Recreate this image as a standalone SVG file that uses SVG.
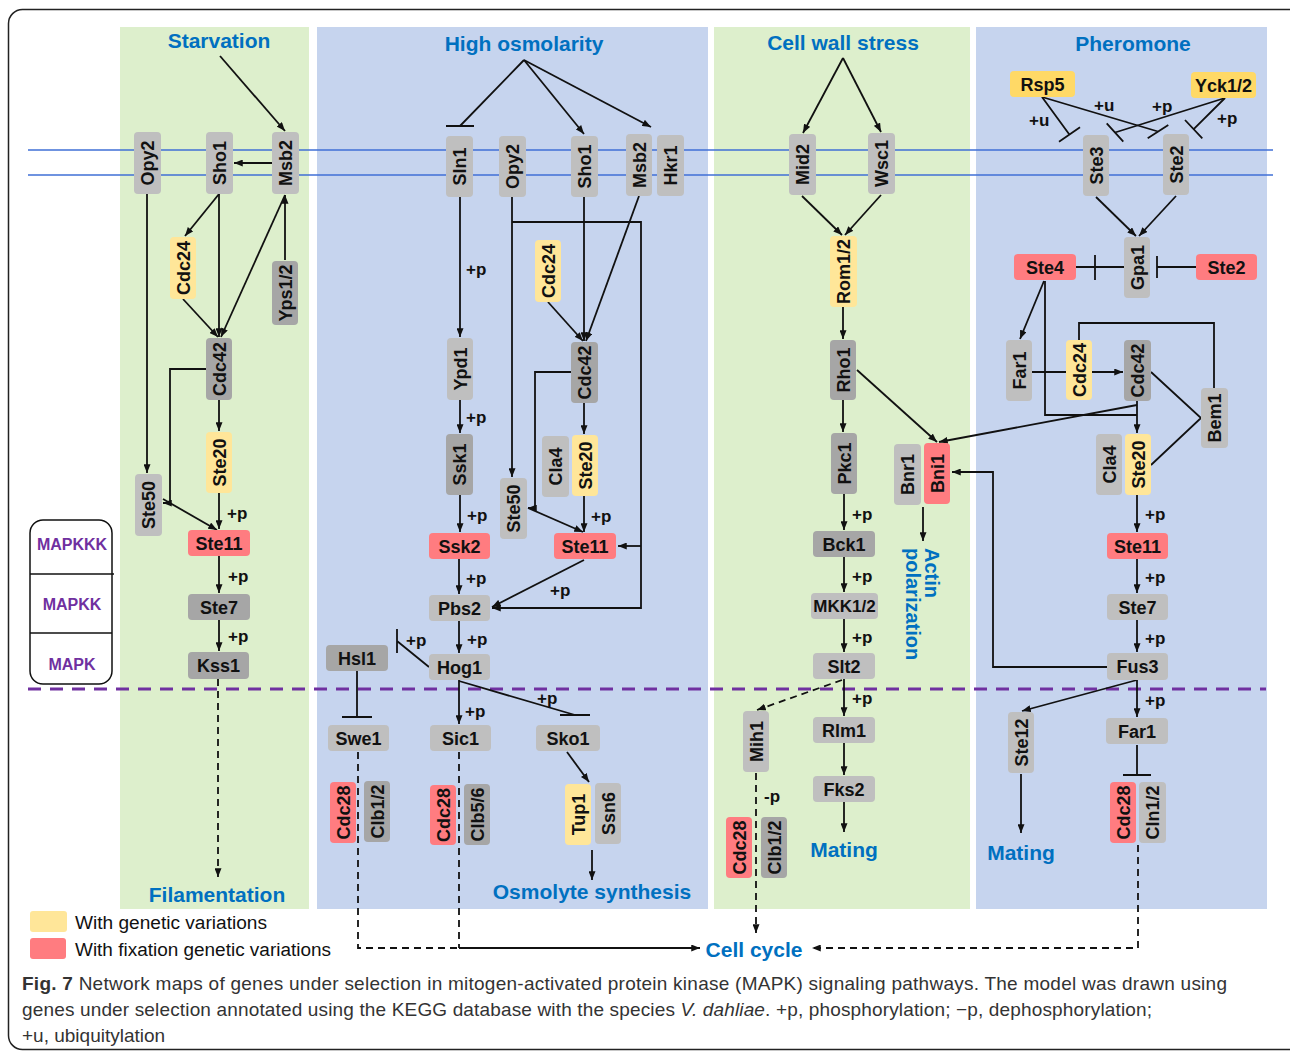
<svg xmlns="http://www.w3.org/2000/svg" width="1290" height="1052" viewBox="0 0 1290 1052">
<defs>
<style>
.lg{fill:#bfbfbf}.dg{fill:#a6a6a6}.ye{fill:#ffe699}.ye2{fill:#ffd966}.rd{fill:#ff7c80}
.n text{font-family:"Liberation Sans",Arial,sans-serif;font-weight:bold;font-size:18px;fill:#111;text-anchor:middle}
.e{stroke:#111;stroke-width:1.8;fill:none}
.d{stroke-dasharray:7 5}
.a{marker-end:url(#ar)}
.lb{font-family:"Liberation Sans",Arial,sans-serif;font-weight:bold;font-size:17px;fill:#111}
.bl{font-family:"Liberation Sans",Arial,sans-serif;font-weight:bold;font-size:21px;fill:#0070c0}
.mk{font-family:"Liberation Sans",Arial,sans-serif;font-weight:bold;font-size:16px;fill:#7030a0;text-anchor:middle}
.lgd{font-family:"Liberation Sans",Arial,sans-serif;font-size:18px;fill:#111}
.cap{font-family:"Liberation Sans",Arial,sans-serif;font-size:19px;fill:#333}
</style>
<marker id="ar" viewBox="0 0 10 8" refX="10" refY="4" markerWidth="9" markerHeight="7" markerUnits="userSpaceOnUse" orient="auto"><path d="M0,0 L10,4 L0,8 z" fill="#111"/></marker>
</defs>
<rect width="1290" height="1052" fill="#fff"/>
<rect x="8.5" y="9.5" width="1310" height="1040" rx="14" fill="#fff" stroke="#222" stroke-width="1.5"/>

<g id="panels">
<rect x="120" y="27" width="189" height="882" fill="#ddefcc"/>
<rect x="317" y="27" width="391" height="882" fill="#c6d4ee"/>
<rect x="714" y="27" width="256" height="882" fill="#ddefcc"/>
<rect x="976" y="27" width="291" height="882" fill="#c6d4ee"/>
</g>
<g id="membrane" stroke="#3f6fd6" stroke-width="1.7">
<line x1="28" y1="150" x2="1273" y2="150"/>
<line x1="28" y1="175" x2="1273" y2="175"/>
</g>
<line x1="28" y1="689" x2="1266" y2="689" stroke="#7030a0" stroke-width="3" stroke-dasharray="13 9"/>

<g id="mapk-legend">
<rect x="30" y="520" width="82" height="164" rx="13" fill="#fff" stroke="#111" stroke-width="1.5"/>
<line x1="30" y1="574" x2="114" y2="574" stroke="#111" stroke-width="1.5"/>
<line x1="30" y1="633" x2="112" y2="633" stroke="#111" stroke-width="1.5"/>
<text class="mk" x="72" y="550">MAPKKK</text>
<text class="mk" x="72" y="610">MAPKK</text>
<text class="mk" x="72" y="670">MAPK</text>
</g>

<g id="connectors">
<!-- Starvation -->
<path class="e a" d="M220,56 L285,131"/>
<path class="e a" d="M272,163 L234,163"/>
<path class="e a" d="M219,194 L185,236"/>
<path class="e a" d="M219,194 L219,337"/>
<path class="e a" d="M183,299 L218,337"/>
<path class="e a" d="M285,195 L221,337"/>
<path class="e a" d="M285,260 L285,195"/>
<path class="e a" d="M147,194 L147,473"/>
<path class="e a" d="M206,369 L170,369 L170,503 L163,503"/>
<path class="e a" d="M163,499 L217,530"/>
<path class="e a" d="M219,400 L219,431"/>
<path class="e a" d="M219,493 L219,529"/>
<path class="e a" d="M219,556 L219,593"/>
<path class="e a" d="M219,620 L219,651"/>
<path class="e d a" d="M218,679 L218,877"/>
<!-- High osmolarity -->
<path class="e" d="M524,60 L460,126 M446,126 L474,126"/>
<path class="e a" d="M524,60 L584,134"/>
<path class="e a" d="M524,60 L651,127"/>
<path class="e a" d="M460,197 L460,337"/>
<path class="e a" d="M460,400 L460,433"/>
<path class="e a" d="M460,495 L460,532"/>
<path class="e a" d="M459,559 L459,594"/>
<path class="e a" d="M459,621 L459,653"/>
<path class="e" d="M429,667 L397,641 M397,629 L397,653"/>
<path class="e" d="M357,671 L357,717 M342,717 L372,717"/>
<path class="e a" d="M459,680 L459,724"/>
<path class="e" d="M459,681 L575,715 M560,715 L590,715"/>
<path class="e a" d="M567,752 L589,782"/>
<path class="e a" d="M592,850 L592,880"/>
<path class="e d" d="M358,752 L358,948 L459,948 M459,752 L459,948"/>
<path class="e a" d="M459,948 L700,948"/>
<path class="e a" d="M512,197 L512,477"/>
<path class="e a" d="M512,222 L641,222 L641,608 L492,608"/>
<path class="e a" d="M641,546 L618,546"/>
<path class="e a" d="M548,302 L583,341"/>
<path class="e a" d="M584,197 L584,341"/>
<path class="e a" d="M639,196 L586,341"/>
<path class="e a" d="M571,372 L535,372 L535,508 L528,508"/>
<path class="e a" d="M528,508 L583,532"/>
<path class="e a" d="M584,403 L584,434"/>
<path class="e a" d="M584,496 L584,532"/>
<path class="e a" d="M584,560 L492,607"/>
<!-- Cell wall stress -->
<path class="e a" d="M843,58 L803,133"/>
<path class="e a" d="M843,58 L881,132"/>
<path class="e a" d="M802,196 L842,235"/>
<path class="e a" d="M881,195 L845,235"/>
<path class="e a" d="M843,307 L843,339"/>
<path class="e a" d="M843,400 L843,432"/>
<path class="e a" d="M857,370 L937,442"/>
<path class="e a" d="M844,494 L844,530"/>
<path class="e a" d="M844,557 L844,592"/>
<path class="e a" d="M844,619 L844,652"/>
<path class="e a" d="M844,679 L844,716"/>
<path class="e d a" d="M842,680 L757,710"/>
<path class="e a" d="M844,743 L844,775"/>
<path class="e a" d="M844,802 L844,832"/>
<path class="e d a" d="M756,773 L756,933"/>
<path class="e a" d="M923,507 L923,541"/>
<!-- Pheromone -->
<path class="e" d="M1042,97 L1069,134 M1059,141.7 L1080,127.3"/>
<path class="e" d="M1042,97 L1158,131.5 M1147.7,138.3 L1168.3,125"/>
<path class="e" d="M1225,98 L1115,132.5 M1106.7,123.3 L1123.3,141.7"/>
<path class="e" d="M1225,98 L1193.7,129.2 M1185,120 L1202.3,138.3"/>
<path class="e a" d="M1096,197 L1136,236"/>
<path class="e a" d="M1176,196 L1139,236"/>
<path class="e" d="M1076,267 L1124,267 M1095,255 L1095,280"/>
<path class="e" d="M1196,267 L1157,267 M1157,256 L1157,278"/>
<path class="e a" d="M1044,281 L1020,339"/>
<path class="e" d="M1045,281 L1045,415 L1137,415"/>
<path class="e a" d="M1137,401 L1137,433"/>
<path class="e a" d="M1032,372 L1123,372"/>
<path class="e" d="M1079,340 L1079,323 L1214,323 L1214,388"/>
<path class="e" d="M1151,372 L1201,418 L1151,465"/>
<path class="e a" d="M1137,405 L939,442"/>
<path class="e a" d="M1137,495 L1137,532"/>
<path class="e a" d="M1137,559 L1137,593"/>
<path class="e a" d="M1137,620 L1137,652"/>
<path class="e a" d="M1107,667 L993,667 L993,472 L952,472"/>
<path class="e a" d="M1137,680 L1137,717"/>
<path class="e a" d="M1137,680 L1022,711"/>
<path class="e a" d="M1021,774 L1021,833"/>
<path class="e" d="M1137,745 L1137,775 M1123,775 L1151,775"/>
<path class="e d a" d="M1138,845 L1138,948 L812,948"/>
</g>

<g id="edge-labels" class="lb">
<text x="227" y="519">+p</text><text x="228" y="582">+p</text><text x="228" y="642">+p</text>
<text x="466" y="275">+p</text><text x="466" y="423">+p</text><text x="467" y="521">+p</text><text x="466" y="584">+p</text><text x="467" y="645">+p</text>
<text x="406" y="646">+p</text><text x="465" y="717">+p</text><text x="537" y="704">+p</text>
<text x="591" y="522">+p</text><text x="550" y="596">+p</text>
<text x="852" y="520">+p</text><text x="852" y="582">+p</text><text x="852" y="643">+p</text><text x="852" y="704">+p</text>
<text x="764" y="802">-p</text>
<text x="1145" y="520">+p</text><text x="1145" y="583">+p</text><text x="1145" y="644">+p</text><text x="1145" y="706">+p</text>
<text x="1029" y="126">+u</text><text x="1094" y="111">+u</text><text x="1152" y="112">+p</text><text x="1217" y="124">+p</text>
</g>

<g id="nodes" class="n">
<!-- Starvation -->
<g id="s_opy2"><rect class="lg" x="134" y="132" width="27" height="62" rx="4"/><text x="147.5" y="163" dy="6.5" transform="rotate(-90 147.5 163)">Opy2</text></g>
<g id="s_sho1"><rect class="lg" x="206" y="132" width="27" height="62" rx="4"/><text x="219.5" y="163" dy="6.5" transform="rotate(-90 219.5 163)">Sho1</text></g>
<g id="s_msb2"><rect class="lg" x="272" y="132" width="27" height="62" rx="4"/><text x="285.5" y="163" dy="6.5" transform="rotate(-90 285.5 163)">Msb2</text></g>
<g id="s_cdc24"><rect class="ye" x="170" y="237" width="26" height="62" rx="4"/><text x="183" y="268" dy="6.5" transform="rotate(-90 183 268)">Cdc24</text></g>
<g id="s_yps12"><rect class="dg" x="272" y="261" width="26" height="64" rx="4"/><text x="285" y="293" dy="6.5" transform="rotate(-90 285 293)">Yps1/2</text></g>
<g id="s_cdc42"><rect class="dg" x="206" y="338" width="26" height="62" rx="4"/><text x="219" y="369" dy="6.5" transform="rotate(-90 219 369)">Cdc42</text></g>
<g id="s_ste20"><rect class="ye" x="206" y="432" width="26" height="61" rx="4"/><text x="219" y="462.5" dy="6.5" transform="rotate(-90 219 462.5)">Ste20</text></g>
<g id="s_ste50"><rect class="lg" x="135" y="474" width="27" height="62" rx="4"/><text x="148.5" y="505" dy="6.5" transform="rotate(-90 148.5 505)">Ste50</text></g>
<g id="s_ste11"><rect class="rd" x="188" y="530" width="62" height="26" rx="4"/><text x="219" y="543" dy="6.5">Ste11</text></g>
<g id="s_ste7"><rect class="dg" x="188" y="594" width="62" height="26" rx="4"/><text x="219" y="607" dy="6.5">Ste7</text></g>
<g id="s_kss1"><rect class="dg" x="188" y="652" width="61" height="27" rx="4"/><text x="218.5" y="665.5" dy="6.5">Kss1</text></g>
<!-- High osmolarity -->
<g id="h_sln1"><rect class="lg" x="446" y="136" width="27" height="61" rx="4"/><text x="459.5" y="166.5" dy="6.5" transform="rotate(-90 459.5 166.5)">Sln1</text></g>
<g id="h_opy2"><rect class="lg" x="499" y="136" width="27" height="61" rx="4"/><text x="512.5" y="166.5" dy="6.5" transform="rotate(-90 512.5 166.5)">Opy2</text></g>
<g id="h_sho1"><rect class="lg" x="571" y="136" width="27" height="61" rx="4"/><text x="584.5" y="166.5" dy="6.5" transform="rotate(-90 584.5 166.5)">Sho1</text></g>
<g id="h_msb2"><rect class="lg" x="626" y="134" width="26" height="62" rx="4"/><text x="639" y="165" dy="6.5" transform="rotate(-90 639 165)">Msb2</text></g>
<g id="h_hkr1"><rect class="lg" x="657" y="135" width="27" height="61" rx="4"/><text x="670.5" y="165.5" dy="6.5" transform="rotate(-90 670.5 165.5)">Hkr1</text></g>
<g id="h_cdc24"><rect class="ye" x="535" y="240" width="26" height="62" rx="4"/><text x="548" y="271" dy="6.5" transform="rotate(-90 548 271)">Cdc24</text></g>
<g id="h_ypd1"><rect class="lg" x="447" y="338" width="26" height="62" rx="4"/><text x="460" y="369" dy="6.5" transform="rotate(-90 460 369)">Ypd1</text></g>
<g id="h_cdc42"><rect class="dg" x="571" y="342" width="27" height="61" rx="4"/><text x="584.5" y="372.5" dy="6.5" transform="rotate(-90 584.5 372.5)">Cdc42</text></g>
<g id="h_ssk1"><rect class="dg" x="446" y="434" width="27" height="61" rx="4"/><text x="459.5" y="464.5" dy="6.5" transform="rotate(-90 459.5 464.5)">Ssk1</text></g>
<g id="h_cla4"><rect class="lg" x="542" y="436" width="27" height="61" rx="4"/><text x="555.5" y="466.5" dy="6.5" transform="rotate(-90 555.5 466.5)">Cla4</text></g>
<g id="h_ste20"><rect class="ye" x="572" y="435" width="26" height="61" rx="4"/><text x="585" y="465.5" dy="6.5" transform="rotate(-90 585 465.5)">Ste20</text></g>
<g id="h_ste50"><rect class="lg" x="500" y="478" width="27" height="61" rx="4"/><text x="513.5" y="508.5" dy="6.5" transform="rotate(-90 513.5 508.5)">Ste50</text></g>
<g id="h_ssk2"><rect class="rd" x="429" y="533" width="61" height="26" rx="4"/><text x="459.5" y="546" dy="6.5">Ssk2</text></g>
<g id="h_ste11"><rect class="rd" x="554" y="533" width="62" height="26" rx="4"/><text x="585" y="546" dy="6.5">Ste11</text></g>
<g id="h_pbs2"><rect class="lg" x="429" y="595" width="61" height="26" rx="4"/><text x="459.5" y="608" dy="6.5">Pbs2</text></g>
<g id="h_hog1"><rect class="lg" x="429" y="654" width="61" height="26" rx="4"/><text x="459.5" y="667" dy="6.5">Hog1</text></g>
<g id="h_hsl1"><rect class="dg" x="326" y="645" width="62" height="26" rx="4"/><text x="357" y="658" dy="6.5">Hsl1</text></g>
<g id="h_swe1"><rect class="lg" x="328" y="725" width="61" height="26" rx="4"/><text x="358.5" y="738" dy="6.5">Swe1</text></g>
<g id="h_sic1"><rect class="lg" x="430" y="725" width="61" height="26" rx="4"/><text x="460.5" y="738" dy="6.5">Sic1</text></g>
<g id="h_sko1"><rect class="lg" x="536" y="725" width="64" height="26" rx="4"/><text x="568" y="738" dy="6.5">Sko1</text></g>
<g id="h_cdc28a"><rect class="rd" x="330" y="782" width="26" height="61" rx="4"/><text x="343" y="812.5" dy="6.5" transform="rotate(-90 343 812.5)">Cdc28</text></g>
<g id="h_clb12"><rect class="dg" x="364" y="781" width="26" height="61" rx="4"/><text x="377" y="811.5" dy="6.5" transform="rotate(-90 377 811.5)">Clb1/2</text></g>
<g id="h_cdc28b"><rect class="rd" x="430" y="785" width="26" height="60" rx="4"/><text x="443" y="815" dy="6.5" transform="rotate(-90 443 815)">Cdc28</text></g>
<g id="h_clb56"><rect class="dg" x="464" y="784" width="26" height="61" rx="4"/><text x="477" y="814.5" dy="6.5" transform="rotate(-90 477 814.5)">Clb5/6</text></g>
<g id="h_tup1"><rect class="ye" x="565" y="784" width="26" height="61" rx="4"/><text x="578" y="814.5" dy="6.5" transform="rotate(-90 578 814.5)">Tup1</text></g>
<g id="h_ssn6"><rect class="lg" x="595" y="783" width="26" height="61" rx="4"/><text x="608" y="813.5" dy="6.5" transform="rotate(-90 608 813.5)">Ssn6</text></g>
<!-- Cell wall stress -->
<g id="c_mid2"><rect class="lg" x="789" y="134" width="27" height="61" rx="4"/><text x="802.5" y="164.5" dy="6.5" transform="rotate(-90 802.5 164.5)">Mid2</text></g>
<g id="c_wsc1"><rect class="lg" x="868" y="133" width="27" height="61" rx="4"/><text x="881.5" y="163.5" dy="6.5" transform="rotate(-90 881.5 163.5)">Wsc1</text></g>
<g id="c_rom12"><rect class="ye" x="830" y="236" width="27" height="71" rx="4"/><text x="843.5" y="271.5" dy="6.5" transform="rotate(-90 843.5 271.5)">Rom1/2</text></g>
<g id="c_rho1"><rect class="dg" x="830" y="340" width="26" height="60" rx="4"/><text x="843" y="370" dy="6.5" transform="rotate(-90 843 370)">Rho1</text></g>
<g id="c_pkc1"><rect class="dg" x="831" y="433" width="26" height="61" rx="4"/><text x="844" y="463.5" dy="6.5" transform="rotate(-90 844 463.5)">Pkc1</text></g>
<g id="c_bnr1"><rect class="lg" x="894" y="444" width="27" height="61" rx="4"/><text x="907.5" y="474.5" dy="6.5" transform="rotate(-90 907.5 474.5)">Bnr1</text></g>
<g id="c_bni1"><rect class="rd" x="924" y="443" width="26" height="61" rx="4"/><text x="937" y="473.5" dy="6.5" transform="rotate(-90 937 473.5)">Bni1</text></g>
<g id="c_bck1"><rect class="dg" x="813" y="531" width="62" height="26" rx="4"/><text x="844" y="544" dy="6.5">Bck1</text></g>
<g id="c_mkk12"><rect class="lg" x="811" y="593" width="67" height="26" rx="4"/><text x="844.5" y="606" dy="6" style="font-size:17px">MKK1/2</text></g>
<g id="c_slt2"><rect class="lg" x="813" y="653" width="62" height="26" rx="4"/><text x="844" y="666" dy="6.5">Slt2</text></g>
<g id="c_rlm1"><rect class="lg" x="813" y="717" width="62" height="26" rx="4"/><text x="844" y="730" dy="6.5">Rlm1</text></g>
<g id="c_fks2"><rect class="lg" x="813" y="776" width="62" height="26" rx="4"/><text x="844" y="789" dy="6.5">Fks2</text></g>
<g id="c_mih1"><rect class="lg" x="743" y="711" width="26" height="61" rx="4"/><text x="756" y="741.5" dy="6.5" transform="rotate(-90 756 741.5)">Mih1</text></g>
<g id="c_cdc28"><rect class="rd" x="726" y="817" width="26" height="61" rx="4"/><text x="739" y="847.5" dy="6.5" transform="rotate(-90 739 847.5)">Cdc28</text></g>
<g id="c_clb12"><rect class="dg" x="761" y="817" width="26" height="61" rx="4"/><text x="774" y="847.5" dy="6.5" transform="rotate(-90 774 847.5)">Clb1/2</text></g>
<!-- Pheromone -->
<g id="p_rsp5"><rect class="ye2" x="1010" y="71" width="65" height="26" rx="4"/><text x="1042.5" y="84" dy="6.5">Rsp5</text></g>
<g id="p_yck12"><rect class="ye2" x="1191" y="72" width="65" height="26" rx="4"/><text x="1223.5" y="85" dy="6.5">Yck1/2</text></g>
<g id="p_ste3"><rect class="lg" x="1083" y="135" width="26" height="61" rx="4"/><text x="1096" y="165.5" dy="6.5" transform="rotate(-90 1096 165.5)">Ste3</text></g>
<g id="p_ste2"><rect class="lg" x="1163" y="134" width="26" height="61" rx="4"/><text x="1176" y="164.5" dy="6.5" transform="rotate(-90 1176 164.5)">Ste2</text></g>
<g id="p_gpa1"><rect class="lg" x="1124" y="237" width="26" height="61" rx="4"/><text x="1137" y="267.5" dy="6.5" transform="rotate(-90 1137 267.5)">Gpa1</text></g>
<g id="p_ste4"><rect class="rd" x="1014" y="254" width="62" height="26" rx="4"/><text x="1045" y="267" dy="6.5">Ste4</text></g>
<g id="p_ste2r"><rect class="rd" x="1196" y="254" width="61" height="26" rx="4"/><text x="1226.5" y="267" dy="6.5">Ste2</text></g>
<g id="p_far1"><rect class="lg" x="1006" y="340" width="26" height="61" rx="4"/><text x="1019" y="370.5" dy="6.5" transform="rotate(-90 1019 370.5)">Far1</text></g>
<g id="p_cdc24"><rect class="ye" x="1066" y="340" width="26" height="60" rx="4"/><text x="1079" y="370" dy="6.5" transform="rotate(-90 1079 370)">Cdc24</text></g>
<g id="p_cdc42"><rect class="dg" x="1124" y="340" width="27" height="61" rx="4"/><text x="1137.5" y="370.5" dy="6.5" transform="rotate(-90 1137.5 370.5)">Cdc42</text></g>
<g id="p_bem1"><rect class="lg" x="1201" y="388" width="27" height="60" rx="4"/><text x="1214.5" y="418" dy="6.5" transform="rotate(-90 1214.5 418)">Bem1</text></g>
<g id="p_cla4"><rect class="lg" x="1096" y="434" width="26" height="61" rx="4"/><text x="1109" y="464.5" dy="6.5" transform="rotate(-90 1109 464.5)">Cla4</text></g>
<g id="p_ste20"><rect class="ye" x="1125" y="434" width="26" height="61" rx="4"/><text x="1138" y="464.5" dy="6.5" transform="rotate(-90 1138 464.5)">Ste20</text></g>
<g id="p_ste11"><rect class="rd" x="1107" y="533" width="61" height="26" rx="4"/><text x="1137.5" y="546" dy="6.5">Ste11</text></g>
<g id="p_ste7"><rect class="lg" x="1107" y="594" width="61" height="26" rx="4"/><text x="1137.5" y="607" dy="6.5">Ste7</text></g>
<g id="p_fus3"><rect class="lg" x="1107" y="653" width="61" height="27" rx="4"/><text x="1137.5" y="666.5" dy="6.5">Fus3</text></g>
<g id="p_far1b"><rect class="lg" x="1106" y="718" width="62" height="26" rx="4"/><text x="1137" y="731" dy="6.5">Far1</text></g>
<g id="p_ste12"><rect class="lg" x="1008" y="712" width="26" height="61" rx="4"/><text x="1021" y="742.5" dy="6.5" transform="rotate(-90 1021 742.5)">Ste12</text></g>
<g id="p_cdc28"><rect class="rd" x="1110" y="782" width="26" height="61" rx="4"/><text x="1123" y="812.5" dy="6.5" transform="rotate(-90 1123 812.5)">Cdc28</text></g>
<g id="p_cln12"><rect class="lg" x="1139" y="782" width="27" height="61" rx="4"/><text x="1152.5" y="812.5" dy="6.5" transform="rotate(-90 1152.5 812.5)">Cln1/2</text></g>
</g>

<g id="labels" class="bl" text-anchor="middle">
<text x="219" y="48">Starvation</text>
<text x="524" y="51">High osmolarity</text>
<text x="843" y="50">Cell wall stress</text>
<text x="1133" y="51">Pheromone</text>
<text x="217" y="902">Filamentation</text>
<text x="592" y="899">Osmolyte synthesis</text>
<text x="844" y="857">Mating</text>
<text x="1021" y="860">Mating</text>
<text x="754" y="957">Cell cycle</text>
<text x="925" y="548" text-anchor="start" transform="rotate(90 925 548)" style="font-size:20px">Actin</text>
<text x="906" y="548" text-anchor="start" transform="rotate(90 906 548)" style="font-size:20px">polarization</text>
</g>

<g id="legend">
<rect x="30" y="911" width="37" height="21" rx="3" fill="#ffe699"/>
<rect x="30" y="938" width="36" height="21" rx="3" fill="#ff7c80"/>
<text class="lgd" x="75" y="929" textLength="192" lengthAdjust="spacingAndGlyphs">With genetic variations</text>
<text class="lgd" x="75" y="956" textLength="256" lengthAdjust="spacingAndGlyphs">With fixation genetic variations</text>
</g>

<g id="caption" class="cap">
<text x="22" y="990" textLength="1205" lengthAdjust="spacing"><tspan font-weight="bold">Fig. 7</tspan> Network maps of genes under selection in mitogen-activated protein kinase (MAPK) signaling pathways. The model was drawn using</text>
<text x="22" y="1016" textLength="1130" lengthAdjust="spacing">genes under selection annotated using the KEGG database with the species <tspan font-style="italic">V. dahliae</tspan>. +p, phosphorylation; −p, dephosphorylation;</text>
<text x="22" y="1042">+u, ubiquitylation</text>
</g>
</svg>
